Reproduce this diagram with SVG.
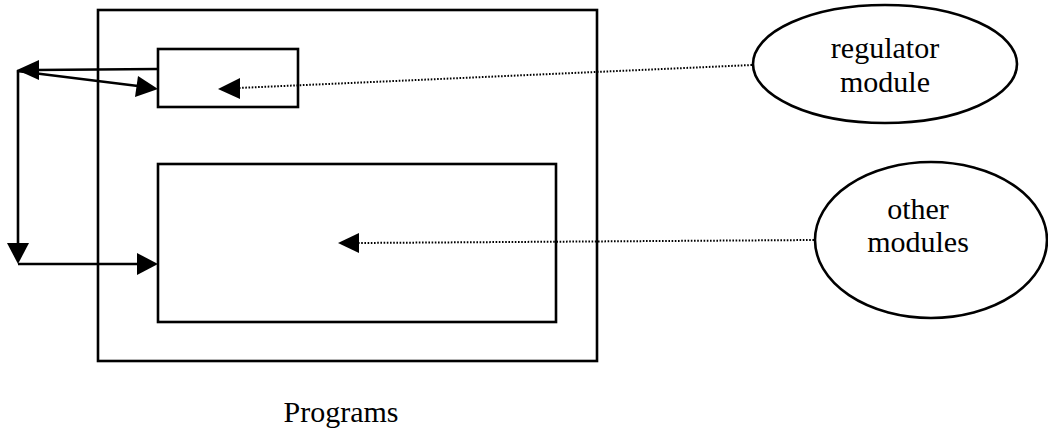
<svg xmlns="http://www.w3.org/2000/svg" width="1048" height="437" viewBox="0 0 1048 437">
<style>
.box{fill:none;stroke:#000;stroke-width:2.6}
.ln{fill:none;stroke:#000;stroke-width:2.6}
.dot{fill:none;stroke:#000;stroke-width:2;stroke-dasharray:1.6 1.6}
.ah{fill:#000;stroke:none}
text{font-family:"Liberation Serif","Times New Roman",serif;font-size:30px;fill:#000;text-anchor:middle}
</style>
<rect width="1048" height="437" fill="#fff"/>
<g id="programs">
<rect class="box" x="98" y="10" width="499" height="351"/>
<text x="341" y="422">Programs</text>
</g>
<g id="small-module">
<rect class="box" x="158" y="49" width="140" height="58"/>
</g>
<g id="large-module">
<rect class="box" x="158" y="164" width="398" height="158"/>
</g>
<g id="regulator-module">
<ellipse class="box" cx="885" cy="64" rx="132" ry="59"/>
<text x="885" y="58">regulator</text>
<text x="885" y="92">module</text>
</g>
<g id="other-modules">
<ellipse class="box" cx="931" cy="240" rx="116" ry="78"/>
<text x="918" y="219">other</text>
<text x="918" y="252">modules</text>
</g>
<g id="connectors">
<line class="ln" x1="158" y1="69" x2="36" y2="70"/>
<polygon class="ah" points="17,70 39,60 39,80"/>
<line class="ln" x1="17" y1="71" x2="138" y2="86"/>
<polygon class="ah" points="158,89 135,97 138,76"/>
<line class="ln" x1="18" y1="70" x2="18" y2="245"/>
<polygon class="ah" points="18,264 7,243 29,243"/>
<line class="ln" x1="18" y1="264" x2="138" y2="264"/>
<polygon class="ah" points="158,264 137,253 137,275"/>
<line class="dot" x1="752" y1="65" x2="238" y2="88"/>
<polygon class="ah" points="218,89 240,78 240,99"/>
<line class="dot" x1="814" y1="240" x2="357" y2="243"/>
<polygon class="ah" points="338,243 359,233 359,253"/>
</g>
</svg>
